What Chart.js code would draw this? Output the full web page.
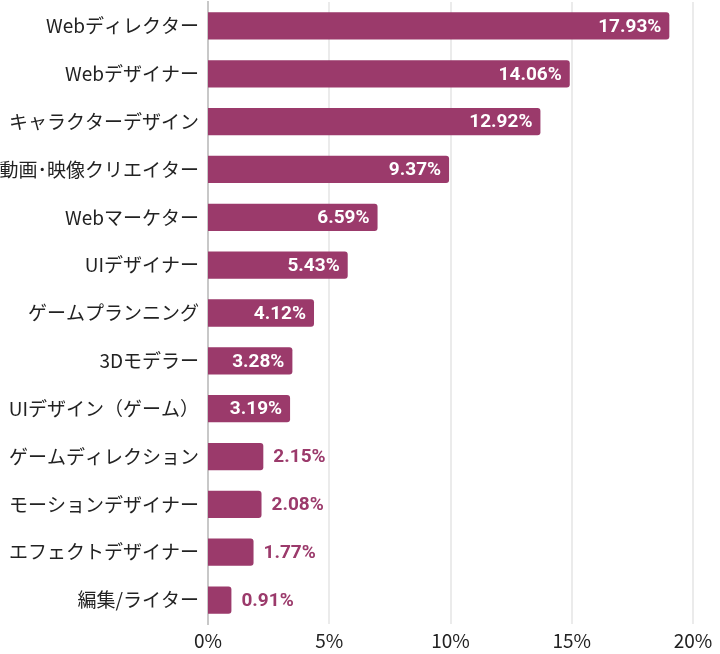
<!DOCTYPE html>
<html>
<head>
<meta charset="utf-8">
<script src="https://cdn.jsdelivr.net/npm/chart.js@4/dist/chart.umd.min.js"></script>
<style>
  html, body { margin: 0; padding: 0; background: #fff; }
  #wrap { width: 720px; height: 654px; position: relative; }
</style>
</head>
<body>
<div id="wrap"><canvas id="jobChart"></canvas></div>
<script>
// job share chart
var jobs = [
    'Webディレクター', 'Webデザイナー', 'キャラクターデザイン', '動画･映像クリエイター',
    'Webマーケター', 'UIデザイナー', 'ゲームプランニング', '3Dモデラー',
    'UIデザイン（ゲーム）', 'ゲームディレクション', 'モーションデザイナー',
    'エフェクトデザイナー', '編集/ライター'
];
var shares = [17.93, 14.06, 12.92, 9.37, 6.59, 5.43, 4.12, 3.28, 3.19, 2.15, 2.08, 1.77, 0.91];
var xTicks = [0, 5, 10, 15, 20];
// the bars in the source run on their own scale, a bit wider than the tick axis
var barAxisMax = 18.85;

var barColor = '#9b3a6b';
var jpFont = '"Noto Sans CJK JP", "Noto Sans", sans-serif';

// draws the % labels, inside the bar when it fits, after it otherwise
var valueLabels = {
    id: 'valueLabels',
    afterDatasetsDraw: function (chart) {
        var ctx = chart.ctx;
        var meta = chart.getDatasetMeta(0);
        ctx.save();
        ctx.font = 'bold 19px Roboto, sans-serif';
        ctx.textBaseline = 'middle';
        meta.data.forEach(function (bar, i) {
            var v = shares[i];
            var txt = v.toFixed(2) + '%';
            if (v >= 3) {
                ctx.fillStyle = '#ffffff';
                ctx.textAlign = 'right';
                ctx.fillText(txt, bar.x - 8, bar.y + 1);
            } else {
                ctx.fillStyle = barColor;
                ctx.textAlign = 'left';
                ctx.fillText(txt, bar.x + 10, bar.y + 1);
            }
        });
        ctx.restore();
    }
};

new Chart(document.getElementById('jobChart'), {
    type: 'bar',
    data: {
        labels: jobs,
        datasets: [{
            data: shares,
            xAxisID: 'xBar',
            backgroundColor: barColor,
            borderWidth: 0,
            borderRadius: { topRight: 3, bottomRight: 3 },
            borderSkipped: 'start',
            barPercentage: 0.57,
            categoryPercentage: 1
        }]
    },
    plugins: [valueLabels],
    options: {
        indexAxis: 'y',
        responsive: true,
        maintainAspectRatio: false,
        animation: false,
        layout: { padding: { top: 2, right: 27, left: 0, bottom: 0 } },
        plugins: {
            legend: { display: false },
            tooltip: { enabled: false }
        },
        scales: {
            xBar: {
                type: 'linear',
                position: 'bottom',
                display: false,
                min: 0,
                max: barAxisMax
            },
            x: {
                type: 'linear',
                position: 'bottom',
                min: 0,
                max: 20,
                afterBuildTicks: function (scale) {
                    scale.ticks = xTicks.map(function (v) { return { value: v }; });
                },
                afterFit: function (scale) {
                    scale.height = 30;
                    scale.paddingLeft = 0;
                    scale.paddingRight = 0;
                },
                grid: { color: '#ebebeb', lineWidth: 2, drawTicks: false },
                border: { display: false },
                ticks: {
                    padding: 5,
                    color: '#222',
                    font: { family: jpFont, size: 19 },
                    callback: function (value) { return value + '%'; }
                }
            },
            y: {
                afterFit: function (scale) {
                    scale.width = 208;
                    scale.paddingTop = 0;
                    scale.paddingBottom = 0;
                },
                grid: { display: false, drawTicks: false },
                border: { display: true, color: '#c8c8c8', width: 2 },
                ticks: {
                    padding: 9,
                    color: '#222',
                    font: { family: jpFont, size: 19 }
                }
            }
        }
    }
});
</script>
</body>
</html>
